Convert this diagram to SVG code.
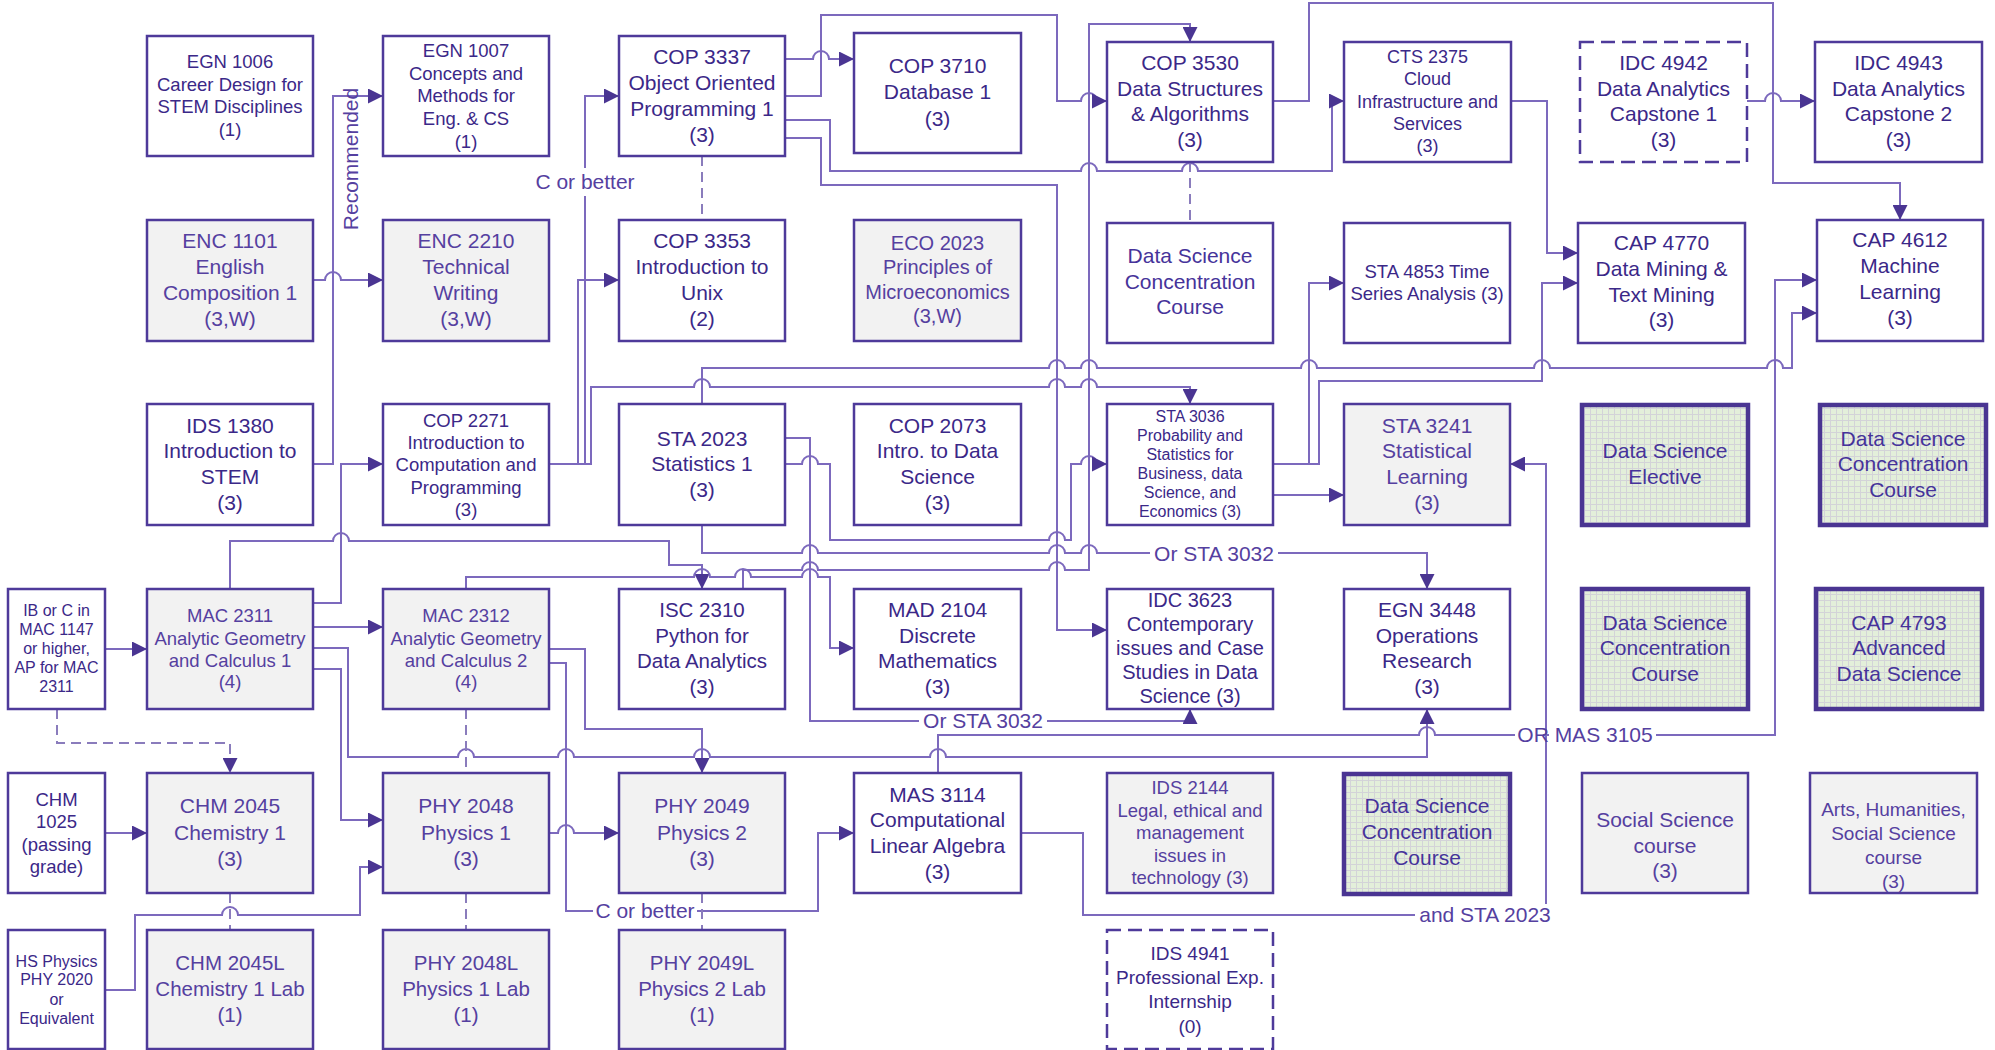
<svg xmlns="http://www.w3.org/2000/svg" width="1995" height="1050" viewBox="0 0 1995 1050">
<defs>
<style>
.b{fill:#fff;stroke:#4e3a9a;stroke-width:2.5}
.g{fill:#f2f2f2}
.d{stroke-dasharray:14 7}
.gr{fill:url(#grid);stroke:#4a3592;stroke-width:4.5}
text{font-family:"Liberation Sans",Arial,sans-serif;text-anchor:middle;fill:#3b2888}
.tg text{fill:#5540a0}
.tn text{fill:#46339a}
.c{fill:none;stroke:#7c69bd;stroke-width:2}
.cd{fill:none;stroke:#8a7cbc;stroke-width:2;stroke-dasharray:10 6}
.ca{marker-end:url(#ah)}
.lb{fill:#fff}
.lt{fill:#5540a0;font-size:21px}
</style>
<marker id="ah" markerUnits="userSpaceOnUse" markerWidth="15" markerHeight="15" viewBox="0 0 15 15" refX="15" refY="7.5" orient="auto">
<path d="M0,0 L15,7.5 L0,15 Z" fill="#4a3592"/>
</marker>
<pattern id="grid" patternUnits="userSpaceOnUse" width="6" height="6">
<rect width="6" height="6" fill="#e3efda"/>
<path d="M0,0.5 H6 M0.5,0 V6" stroke="#d3d3d8" stroke-width="1"/>
</pattern>
</defs>
<rect width="1995" height="1050" fill="#fff"/>

<g id="connectors">
<path class="c ca" d="M313,464 H333 V96 H383"/>
<path class="c ca" d="M313,280 H325 A8,8 0 0 1 341,280 H383"/>
<path class="c ca" d="M549,464 H585 V96 H619"/>
<path class="c ca" d="M549,464 H578 V280 H619"/>
<path class="c ca" d="M549,464 H591 V387 H694 A8,8 0 0 1 710,387 H1049 A8,8 0 0 1 1065,387 H1081 A8,8 0 0 1 1097,387 H1190 V404"/>
<path class="c ca" d="M785,59 H813 A8,8 0 0 1 829,59 H854"/>
<path class="c ca" d="M785,96 H821 V15 H1057 V101 H1081 A8,8 0 0 1 1097,101 H1107"/>
<path class="c ca" d="M785,120 H830 V171 H1081 A8,8 0 0 1 1097,171 H1182 A8,8 0 0 1 1198,171 H1332 V101 H1344"/>
<path class="c ca" d="M785,138 H821 V185 H1057 V630 H1107"/>
<path class="c ca" d="M743,589 V570 H802 A8,8 0 0 1 818,570 H1049 A8,8 0 0 1 1065,570 H1089 V24 H1190 V42"/>
<path class="c ca" d="M230,589 V541 H333 A8,8 0 0 1 349,541 H669 V565 H702 V589"/>
<path class="c ca" d="M313,603 H341 V464 H383"/>
<path class="c ca" d="M313,627 H383"/>
<path class="c ca" d="M313,648 H348 V757 H458 A8,8 0 0 1 474,757 H558 A8,8 0 0 1 574,757 H694 A8,8 0 0 1 710,757 H930 A8,8 0 0 1 946,757 H1427 V709"/>
<path class="c ca" d="M313,669 H341 V820 H383"/>
<path class="c ca" d="M549,649 H585 V729 H702 V773"/>
<path class="c ca" d="M549,663 H566 V911 H818 V833 H854"/>
<path class="c ca" d="M466,589 V577 H694 A8,8 0 0 1 710,577 H735 A8,8 0 0 1 751,577 H802 A8,8 0 0 1 818,577 H830 V648 H854"/>
<path class="c ca" d="M702,404 V368 H1049 A8,8 0 0 1 1065,368 H1081 A8,8 0 0 1 1097,368 H1301 A8,8 0 0 1 1317,368 H1534 A8,8 0 0 1 1550,368 H1767 A8,8 0 0 1 1783,368 H1792 V313 H1817"/>
<path class="c ca" d="M785,438 H810 V721 H1190 V709"/>
<path class="c ca" d="M785,464 H802 A8,8 0 0 1 818,464 H830 V540 H1049 A8,8 0 0 1 1065,540 H1071 V464 H1081 A8,8 0 0 1 1097,464 H1107"/>
<path class="c ca" d="M702,525 V553 H802 A8,8 0 0 1 818,553 H1049 A8,8 0 0 1 1065,553 H1081 A8,8 0 0 1 1097,553 H1427 V589"/>
<path class="c ca" d="M1273,464 H1309 V283 H1344"/>
<path class="c ca" d="M1273,464 H1319 V381 H1542 V283 H1578"/>
<path class="c ca" d="M1273,495 H1344"/>
<path class="c ca" d="M1273,101 H1309 V3 H1773 V183 H1900 V220"/>
<path class="c ca" d="M1511,101 H1547 V253 H1578"/>
<path class="c ca" d="M1747,101 H1765 A8,8 0 0 1 1781,101 H1815"/>
<path class="c ca" d="M938,773 V735 H1419 A8,8 0 0 1 1435,735 H1775 V280 H1817"/>
<path class="c ca" d="M1021,833 H1083 V915 H1546 V464 H1510"/>
<path class="c ca" d="M105,649 H147"/>
<path class="cd ca" d="M57,709 V743 H230 V773"/>
<path class="c ca" d="M105,833 H147"/>
<path class="c ca" d="M105,990 H135 V915 H222 A8,8 0 0 1 238,915 H360 V867 H383"/>
<path class="c ca" d="M549,833 H558 A8,8 0 0 1 574,833 H619"/>
<path class="cd" d="M466,709 V773"/>
<path class="cd" d="M702,156 V220"/>
<path class="cd" d="M1190,162 V223"/>
<path class="cd" d="M230,893 V930"/>
<path class="cd" d="M466,893 V930"/>
<path class="cd" d="M702,893 V930"/>

<rect class="lb" x="533" y="168" width="104" height="28"/>
<text class="lt" x="585" y="189">C or better</text>
<rect class="lb" x="1150" y="543" width="128" height="22"/>
<text class="lt" x="1214" y="561">Or STA 3032</text>
<rect class="lb" x="919" y="710" width="128" height="22"/>
<text class="lt" x="983" y="728">Or STA 3032</text>
<rect class="lb" x="1515" y="724" width="28" height="22"/>
<rect class="lb" x="1549" y="724" width="107" height="22"/>
<text class="lt" x="1585" y="742">OR MAS 3105</text>
<rect class="lb" x="593" y="900" width="104" height="22"/>
<text class="lt" x="645" y="918">C or better</text>
<rect class="lb" x="1415" y="904" width="140" height="24"/>
<text class="lt" x="1485" y="922">and STA 2023</text>
<text class="lt" transform="translate(358,159) rotate(-90)">Recommended</text>
</g>

<g id="n_egn1006"><rect class="b" x="147" y="36" width="166" height="120"/><g font-size="18.5"><text x="230" y="68.3">EGN 1006</text><text x="230" y="90.7">Career Design for</text><text x="230" y="113.3">STEM Disciplines</text><text x="230" y="136">(1)</text></g></g>
<g id="n_egn1007"><rect class="b" x="383" y="36" width="166" height="120"/><g font-size="18.5"><text x="466" y="57.3">EGN 1007</text><text x="466" y="80">Concepts and</text><text x="466" y="102.3">Methods for</text><text x="466" y="125">Eng. &amp; CS</text><text x="466" y="147.7">(1)</text></g></g>
<g id="n_cop3337"><rect class="b" x="619" y="36" width="166" height="120"/><g font-size="21"><text x="702" y="64">COP 3337</text><text x="702" y="90">Object Oriented</text><text x="702" y="115.7">Programming 1</text><text x="702" y="141.7">(3)</text></g></g>
<g id="n_cop3710"><rect class="b" x="854" y="33" width="167" height="120"/><g font-size="21"><text x="937.5" y="73.3">COP 3710</text><text x="937.5" y="99.3">Database 1</text><text x="937.5" y="126">(3)</text></g></g>
<g id="n_cop3530"><rect class="b" x="1107" y="42" width="166" height="120"/><g font-size="21"><text x="1190" y="70">COP 3530</text><text x="1190" y="95.5">Data Structures</text><text x="1190" y="121">&amp; Algorithms</text><text x="1190" y="146.5">(3)</text></g></g>
<g id="n_cts2375"><rect class="b" x="1344" y="42" width="167" height="120"/><g font-size="18"><text x="1427.5" y="63">CTS 2375</text><text x="1427.5" y="85">Cloud</text><text x="1427.5" y="107.5">Infrastructure and</text><text x="1427.5" y="130">Services</text><text x="1427.5" y="152">(3)</text></g></g>
<g id="n_idc4942"><rect class="b d" x="1580" y="42" width="167" height="120"/><g font-size="21"><text x="1663.5" y="70">IDC 4942</text><text x="1663.5" y="95.5">Data Analytics</text><text x="1663.5" y="121">Capstone 1</text><text x="1663.5" y="146.5">(3)</text></g></g>
<g id="n_idc4943"><rect class="b" x="1815" y="42" width="167" height="120"/><g font-size="21"><text x="1898.5" y="70">IDC 4943</text><text x="1898.5" y="95.5">Data Analytics</text><text x="1898.5" y="121">Capstone 2</text><text x="1898.5" y="146.5">(3)</text></g></g>

<g id="n_enc1101" class="tg"><rect class="b g" x="147" y="220" width="166" height="121"/><g font-size="21"><text x="230" y="248.3">ENC 1101</text><text x="230" y="274.3">English</text><text x="230" y="300">Composition 1</text><text x="230" y="326">(3,W)</text></g></g>
<g id="n_enc2210" class="tg"><rect class="b g" x="383" y="220" width="166" height="121"/><g font-size="21"><text x="466" y="248.3">ENC 2210</text><text x="466" y="274.3">Technical</text><text x="466" y="300">Writing</text><text x="466" y="326">(3,W)</text></g></g>
<g id="n_cop3353"><rect class="b" x="619" y="220" width="166" height="121"/><g font-size="21"><text x="702" y="248.3">COP 3353</text><text x="702" y="274.3">Introduction to</text><text x="702" y="300">Unix</text><text x="702" y="326">(2)</text></g></g>
<g id="n_eco2023" class="tg"><rect class="b g" x="854" y="220" width="167" height="121"/><g font-size="20"><text x="937.5" y="250">ECO 2023</text><text x="937.5" y="274.3">Principles of</text><text x="937.5" y="299.3">Microeconomics</text><text x="937.5" y="323.3">(3,W)</text></g></g>
<g id="n_dsconc1" class="tn"><rect class="b" x="1107" y="223" width="166" height="120"/><g font-size="21"><text x="1190" y="263.3">Data Science</text><text x="1190" y="289.3">Concentration</text><text x="1190" y="314">Course</text></g></g>
<g id="n_sta4853"><rect class="b" x="1344" y="223" width="166" height="120"/><g font-size="18.5"><text x="1427" y="277.7">STA 4853 Time</text><text x="1427" y="300">Series Analysis (3)</text></g></g>
<g id="n_cap4770"><rect class="b" x="1578" y="223" width="167" height="120"/><g font-size="21"><text x="1661.5" y="250">CAP 4770</text><text x="1661.5" y="276">Data Mining &amp;</text><text x="1661.5" y="301.5">Text Mining</text><text x="1661.5" y="327">(3)</text></g></g>
<g id="n_cap4612"><rect class="b" x="1817" y="220" width="166" height="121"/><g font-size="21"><text x="1900" y="247.3">CAP 4612</text><text x="1900" y="273.3">Machine</text><text x="1900" y="299.3">Learning</text><text x="1900" y="325">(3)</text></g></g>

<g id="n_ids1380"><rect class="b" x="147" y="404" width="166" height="121"/><g font-size="21"><text x="230" y="433.3">IDS 1380</text><text x="230" y="458.3">Introduction to</text><text x="230" y="484">STEM</text><text x="230" y="510">(3)</text></g></g>
<g id="n_cop2271"><rect class="b" x="383" y="404" width="166" height="121"/><g font-size="18.5"><text x="466" y="426.7">COP 2271</text><text x="466" y="449">Introduction to</text><text x="466" y="471.3">Computation and</text><text x="466" y="493.5">Programming</text><text x="466" y="515.7">(3)</text></g></g>
<g id="n_sta2023"><rect class="b" x="619" y="404" width="166" height="121"/><g font-size="21"><text x="702" y="446">STA 2023</text><text x="702" y="471">Statistics 1</text><text x="702" y="496.7">(3)</text></g></g>
<g id="n_cop2073"><rect class="b" x="854" y="404" width="167" height="121"/><g font-size="21"><text x="937.5" y="433.3">COP 2073</text><text x="937.5" y="458.3">Intro. to Data</text><text x="937.5" y="484">Science</text><text x="937.5" y="510">(3)</text></g></g>
<g id="n_sta3036"><rect class="b" x="1107" y="404" width="166" height="121"/><g font-size="16"><text x="1190" y="422">STA 3036</text><text x="1190" y="441">Probability and</text><text x="1190" y="460">Statistics for</text><text x="1190" y="479">Business, data</text><text x="1190" y="498">Science, and</text><text x="1190" y="517">Economics (3)</text></g></g>
<g id="n_sta3241" class="tg"><rect class="b g" x="1344" y="404" width="166" height="121"/><g font-size="21"><text x="1427" y="433.3">STA 3241</text><text x="1427" y="458.3">Statistical</text><text x="1427" y="484">Learning</text><text x="1427" y="510">(3)</text></g></g>
<g id="n_dselective" class="tn"><rect class="gr" x="1582" y="405" width="166" height="120"/><g font-size="21"><text x="1665" y="458.3">Data Science</text><text x="1665" y="484">Elective</text></g></g>
<g id="n_dsconc2" class="tn"><rect class="gr" x="1820" y="405" width="166" height="120"/><g font-size="21"><text x="1903" y="446">Data Science</text><text x="1903" y="471">Concentration</text><text x="1903" y="496.7">Course</text></g></g>

<g id="n_ib"><rect class="b" x="8" y="589" width="97" height="120"/><g font-size="16"><text x="56.5" y="616">IB or C in</text><text x="56.5" y="635">MAC 1147</text><text x="56.5" y="654">or higher,</text><text x="56.5" y="672.7">AP for MAC</text><text x="56.5" y="691.7">2311</text></g></g>
<g id="n_mac2311" class="tg"><rect class="b g" x="147" y="589" width="166" height="120"/><g font-size="18.5"><text x="230" y="621.7">MAC 2311</text><text x="230" y="645">Analytic Geometry</text><text x="230" y="666.7">and Calculus 1</text><text x="230" y="688.3">(4)</text></g></g>
<g id="n_mac2312" class="tg"><rect class="b g" x="383" y="589" width="166" height="120"/><g font-size="18.5"><text x="466" y="621.7">MAC 2312</text><text x="466" y="645">Analytic Geometry</text><text x="466" y="666.7">and Calculus 2</text><text x="466" y="688.3">(4)</text></g></g>
<g id="n_isc2310"><rect class="b" x="619" y="589" width="166" height="120"/><g font-size="20.5"><text x="702" y="616.7">ISC 2310</text><text x="702" y="642.7">Python for</text><text x="702" y="668.3">Data Analytics</text><text x="702" y="694">(3)</text></g></g>
<g id="n_mad2104"><rect class="b" x="854" y="589" width="167" height="120"/><g font-size="21"><text x="937.5" y="616.7">MAD 2104</text><text x="937.5" y="642.7">Discrete</text><text x="937.5" y="668.3">Mathematics</text><text x="937.5" y="694">(3)</text></g></g>
<g id="n_idc3623"><rect class="b" x="1107" y="589" width="166" height="120"/><g font-size="20"><text x="1190" y="606.7">IDC 3623</text><text x="1190" y="630.7">Contemporary</text><text x="1190" y="654.7">issues and Case</text><text x="1190" y="678.7">Studies in Data</text><text x="1190" y="702.7">Science (3)</text></g></g>
<g id="n_egn3448"><rect class="b" x="1344" y="589" width="166" height="120"/><g font-size="21"><text x="1427" y="616.7">EGN 3448</text><text x="1427" y="642.7">Operations</text><text x="1427" y="668.3">Research</text><text x="1427" y="694">(3)</text></g></g>
<g id="n_dsconc3" class="tn"><rect class="gr" x="1582" y="589" width="166" height="120"/><g font-size="21"><text x="1665" y="630">Data Science</text><text x="1665" y="655">Concentration</text><text x="1665" y="680.7">Course</text></g></g>
<g id="n_cap4793" class="tn"><rect class="gr" x="1816" y="589" width="166" height="120"/><g font-size="21"><text x="1899" y="630">CAP 4793</text><text x="1899" y="655">Advanced</text><text x="1899" y="680.7">Data Science</text></g></g>

<g id="n_chm1025"><rect class="b" x="8" y="773" width="97" height="120"/><g font-size="18.5"><text x="56.5" y="806">CHM</text><text x="56.5" y="828.3">1025</text><text x="56.5" y="851">(passing</text><text x="56.5" y="873.3">grade)</text></g></g>
<g id="n_chm2045" class="tg"><rect class="b g" x="147" y="773" width="166" height="120"/><g font-size="21"><text x="230" y="813.3">CHM 2045</text><text x="230" y="840">Chemistry 1</text><text x="230" y="865.7">(3)</text></g></g>
<g id="n_phy2048" class="tg"><rect class="b g" x="383" y="773" width="166" height="120"/><g font-size="21"><text x="466" y="813.3">PHY 2048</text><text x="466" y="840">Physics 1</text><text x="466" y="865.7">(3)</text></g></g>
<g id="n_phy2049" class="tg"><rect class="b g" x="619" y="773" width="166" height="120"/><g font-size="21"><text x="702" y="813.3">PHY 2049</text><text x="702" y="840">Physics 2</text><text x="702" y="865.7">(3)</text></g></g>
<g id="n_mas3114"><rect class="b" x="854" y="773" width="167" height="120"/><g font-size="21"><text x="937.5" y="801.7">MAS 3114</text><text x="937.5" y="827.4">Computational</text><text x="937.5" y="853.1">Linear Algebra</text><text x="937.5" y="878.8">(3)</text></g></g>
<g id="n_ids2144" class="tg"><rect class="b g" x="1107" y="773" width="166" height="120"/><g font-size="18.5"><text x="1190" y="794">IDS 2144</text><text x="1190" y="816.5">Legal, ethical and</text><text x="1190" y="839">management</text><text x="1190" y="861.5">issues in</text><text x="1190" y="884">technology (3)</text></g></g>
<g id="n_dsconc4" class="tn"><rect class="gr" x="1344" y="774" width="166" height="120"/><g font-size="21"><text x="1427" y="813.3">Data Science</text><text x="1427" y="839">Concentration</text><text x="1427" y="865">Course</text></g></g>
<g id="n_socsci" class="tg"><rect class="b g" x="1582" y="773" width="166" height="120"/><g font-size="21"><text x="1665" y="826.7">Social Science</text><text x="1665" y="852.7">course</text><text x="1665" y="878.3">(3)</text></g></g>
<g id="n_arts" class="tg"><rect class="b g" x="1810" y="773" width="167" height="120"/><g font-size="19"><text x="1893.5" y="816">Arts, Humanities,</text><text x="1893.5" y="840">Social Science</text><text x="1893.5" y="864">course</text><text x="1893.5" y="888.3">(3)</text></g></g>

<g id="n_hsphys"><rect class="b" x="8" y="930" width="97" height="119"/><g font-size="16"><text x="56.5" y="966.7">HS Physics</text><text x="56.5" y="985.3">PHY 2020</text><text x="56.5" y="1005">or</text><text x="56.5" y="1024">Equivalent</text></g></g>
<g id="n_chm2045l" class="tg"><rect class="b g" x="147" y="930" width="166" height="119"/><g font-size="20.5"><text x="230" y="970">CHM 2045L</text><text x="230" y="996">Chemistry 1 Lab</text><text x="230" y="1021.7">(1)</text></g></g>
<g id="n_phy2048l" class="tg"><rect class="b g" x="383" y="930" width="166" height="119"/><g font-size="20.5"><text x="466" y="970">PHY 2048L</text><text x="466" y="996">Physics 1 Lab</text><text x="466" y="1021.7">(1)</text></g></g>
<g id="n_phy2049l" class="tg"><rect class="b g" x="619" y="930" width="166" height="119"/><g font-size="20.5"><text x="702" y="970">PHY 2049L</text><text x="702" y="996">Physics 2 Lab</text><text x="702" y="1021.7">(1)</text></g></g>
<g id="n_ids4941"><rect class="b d" x="1107" y="930" width="166" height="119"/><g font-size="19"><text x="1190" y="960">IDS 4941</text><text x="1190" y="984">Professional Exp.</text><text x="1190" y="1008.3">Internship</text><text x="1190" y="1032.7">(0)</text></g></g>
</svg>
